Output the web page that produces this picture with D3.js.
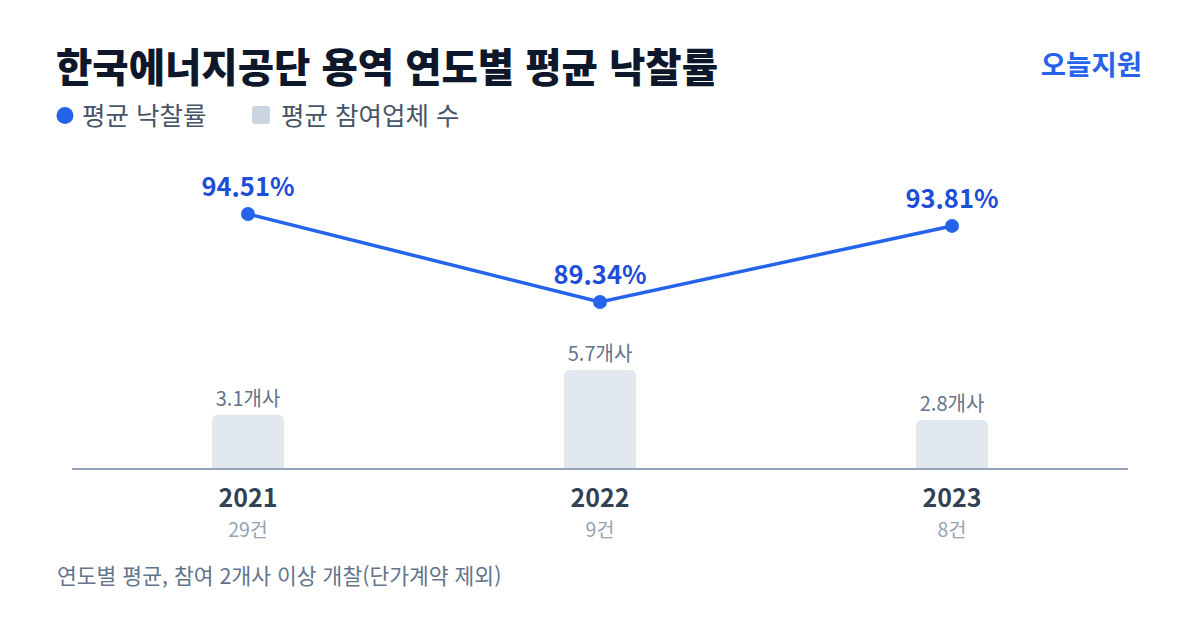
<!DOCTYPE html>
<html lang="ko">
<head>
<meta charset="utf-8">
<script src="https://cdn.jsdelivr.net/npm/d3@7"></script>
<style>
  html, body { margin: 0; padding: 0; background: #fff; }
  svg text { font-family: "Noto Sans CJK KR", "Noto Sans", sans-serif; }
</style>
</head>
<body>
<div id="chart"></div>
<script>
// data
var years = ["2021", "2022", "2023"];
var bidRates = [94.51, 89.34, 93.81];      // 평균 낙찰률 (%)
var bidders = [3.1, 5.7, 2.8];             // 평균 참여업체 수 (개사)
var counts = [29, 9, 8];                   // 건수

var width = 1200;
var height = 630;

var svg = d3.select("#chart").append("svg")
    .attr("width", width)
    .attr("height", height);

svg.append("rect")
    .attr("width", width)
    .attr("height", height)
    .attr("fill", "#fff");

// title + brand
svg.append("text")
    .attr("x", 56)
    .attr("y", 82)
    .attr("font-size", 39.5)
    .attr("font-weight", 800)
    .attr("fill", "#0f172a")
    .text("한국에너지공단 용역 연도별 평균 낙찰률");

svg.append("text")
    .attr("x", 1142)
    .attr("y", 75)
    .attr("text-anchor", "end")
    .attr("font-size", 27.5)
    .attr("font-weight", 700)
    .attr("fill", "#2563eb")
    .text("오늘지원");

// legend
var legend = svg.append("g").attr("class", "legend");
legend.append("circle")
    .attr("cx", 65)
    .attr("cy", 115.5)
    .attr("r", 8.5)
    .attr("fill", "#2563eb");
legend.append("text")
    .attr("x", 82)
    .attr("y", 125)
    .attr("font-size", 25.5)
    .attr("fill", "#475569")
    .text("평균 낙찰률");
legend.append("rect")
    .attr("x", 252)
    .attr("y", 106)
    .attr("width", 18)
    .attr("height", 18)
    .attr("rx", 3)
    .attr("fill", "#cbd5e1");
legend.append("text")
    .attr("x", 281)
    .attr("y", 125)
    .attr("font-size", 25.5)
    .attr("fill", "#475569")
    .text("평균 참여업체 수");

// scales
var x = d3.scalePoint()
    .domain(years)
    .range([72, 1128])
    .padding(0.5);

var baseY = 468;
var yBar = d3.scaleLinear()
    .domain([0, 5.7])
    .range([baseY, 370]);

var yLine = d3.scaleLinear()
    .domain([89.34, 94.51])
    .range([302, 214]);

var barW = 72;

// bars
var bars = svg.append("g").attr("class", "bars");
bars.selectAll("path")
    .data(bidders)
    .join("path")
    .attr("fill", "#e2e8f0")
    .attr("d", function(d, i) {
        var x0 = x(years[i]) - barW / 2;
        var y0 = yBar(d);
        var h = baseY - y0;
        var r = 6;
        return "M" + x0 + "," + (y0 + r) +
            "Q" + x0 + "," + y0 + " " + (x0 + r) + "," + y0 +
            "H" + (x0 + barW - r) +
            "Q" + (x0 + barW) + "," + y0 + " " + (x0 + barW) + "," + (y0 + r) +
            "V" + (y0 + h) + "H" + x0 + "Z";
    });

bars.selectAll("text")
    .data(bidders)
    .join("text")
    .attr("x", function(d, i) { return x(years[i]); })
    .attr("y", function(d) { return yBar(d) - 9; })
    .attr("text-anchor", "middle")
    .attr("font-size", 20)
    .attr("fill", "#64748b")
    .text(function(d) { return d.toFixed(1) + "개사"; });

// baseline
svg.append("line")
    .attr("x1", 72)
    .attr("x2", 1128)
    .attr("y1", baseY + 1)
    .attr("y2", baseY + 1)
    .attr("stroke", "#94a3b8")
    .attr("stroke-width", 2);

// x labels
var xl = svg.append("g").attr("class", "x-labels");
xl.selectAll("text.year")
    .data(years)
    .join("text")
    .attr("class", "year")
    .attr("x", function(d) { return x(d); })
    .attr("y", 507)
    .attr("text-anchor", "middle")
    .attr("font-size", 25)
    .attr("font-weight", 700)
    .attr("fill", "#334155")
    .text(function(d) { return d; });

xl.selectAll("text.count")
    .data(counts)
    .join("text")
    .attr("class", "count")
    .attr("x", function(d, i) { return x(years[i]); })
    .attr("y", 537)
    .attr("text-anchor", "middle")
    .attr("font-size", 19.5)
    .attr("fill", "#94a3b8")
    .text(function(d) { return d + "건"; });

// line
var line = d3.line()
    .x(function(d, i) { return x(years[i]); })
    .y(function(d) { return yLine(d); });

svg.append("path")
    .datum(bidRates)
    .attr("fill", "none")
    .attr("stroke", "#2563eb")
    .attr("stroke-width", 3.5)
    .attr("d", line);

var pts = svg.append("g").attr("class", "points");
pts.selectAll("circle")
    .data(bidRates)
    .join("circle")
    .attr("cx", function(d, i) { return x(years[i]); })
    .attr("cy", function(d) { return yLine(d); })
    .attr("r", 7)
    .attr("fill", "#2563eb");

pts.selectAll("text")
    .data(bidRates)
    .join("text")
    .attr("x", function(d, i) { return x(years[i]); })
    .attr("y", function(d) { return yLine(d) - 18; })
    .attr("text-anchor", "middle")
    .attr("font-size", 25.5)
    .attr("font-weight", 700)
    .attr("fill", "#1d4ed8")
    .text(function(d) { return d.toFixed(2) + "%"; });

// footnote
svg.append("text")
    .attr("x", 57)
    .attr("y", 584)
    .attr("font-size", 21.5)
    .attr("fill", "#64748b")
    .text("연도별 평균, 참여 2개사 이상 개찰(단가계약 제외)");
</script>
</body>
</html>
